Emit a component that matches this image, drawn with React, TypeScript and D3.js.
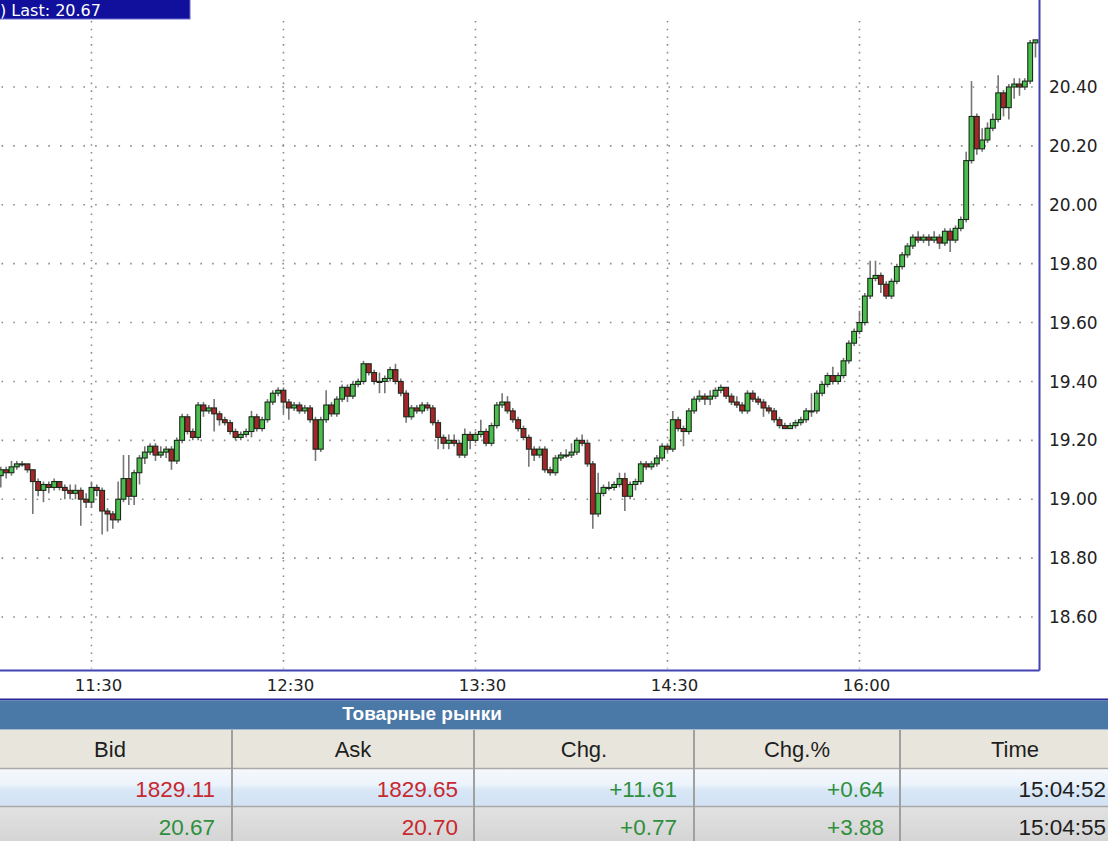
import * as d3 from "d3";

// candle data (open = previous close)
const firstOpen = 19.08;
const closes = [
  19.10, 19.09, 19.11, 19.12, 19.12, 19.10, 19.06, 19.03, 19.05, 19.04,
  19.06, 19.04, 19.03, 19.02, 19.03, 19.00, 18.99, 19.04, 19.03, 18.96,
  18.95, 18.93, 19.00, 19.07, 19.01, 19.09, 19.14, 19.16, 19.18, 19.15,
  19.16, 19.17, 19.13, 19.20, 19.28, 19.23, 19.21, 19.32, 19.30, 19.31,
  19.29, 19.27, 19.26, 19.23, 19.21, 19.22, 19.23, 19.28, 19.24, 19.27,
  19.33, 19.36, 19.37, 19.33, 19.31, 19.32, 19.30, 19.31, 19.27, 19.17,
  19.27, 19.32, 19.29, 19.34, 19.38, 19.35, 19.39, 19.40, 19.46, 19.43,
  19.40, 19.40, 19.41, 19.44, 19.40, 19.36, 19.28, 19.31, 19.30, 19.32,
  19.31, 19.26, 19.21, 19.19, 19.20, 19.19, 19.15, 19.22, 19.20, 19.22,
  19.23, 19.19, 19.25, 19.32, 19.33, 19.30, 19.27, 19.24, 19.21, 19.17,
  19.15, 19.17, 19.10, 19.09, 19.14, 19.15, 19.15, 19.16, 19.20, 19.19,
  19.12, 18.95, 19.02, 19.04, 19.04, 19.05, 19.07, 19.01, 19.05, 19.06,
  19.12, 19.11, 19.12, 19.14, 19.18, 19.17, 19.27, 19.24, 19.23, 19.30,
  19.34, 19.35, 19.34, 19.35, 19.37, 19.38, 19.35, 19.33, 19.32, 19.30,
  19.36, 19.34, 19.33, 19.31, 19.30, 19.27, 19.25, 19.24, 19.25, 19.26,
  19.27, 19.30, 19.30, 19.36, 19.39, 19.42, 19.40, 19.42, 19.47, 19.53,
  19.57, 19.60, 19.69, 19.75, 19.76, 19.73, 19.69, 19.74, 19.79, 19.83,
  19.86, 19.89, 19.88, 19.89, 19.88, 19.89, 19.87, 19.91, 19.88, 19.92,
  19.95, 20.15, 20.30, 20.19, 20.22, 20.26, 20.29, 20.38, 20.33, 20.40,
  20.41, 20.40, 20.42, 20.55, 20.56,
];
const highs = [
  19.11, 19.11, 19.13, 19.13, 19.13, 19.12, 19.10, 19.07, 19.06, 19.06,
  19.07, 19.06, 19.05, 19.05, 19.05, 19.04, 19.02, 19.06, 19.05, 19.04,
  18.97, 18.96, 19.06, 19.15, 19.15, 19.10, 19.15, 19.18, 19.19, 19.19,
  19.18, 19.18, 19.18, 19.21, 19.29, 19.29, 19.24, 19.33, 19.33, 19.32,
  19.34, 19.30, 19.28, 19.27, 19.24, 19.23, 19.24, 19.30, 19.29, 19.28,
  19.34, 19.37, 19.38, 19.38, 19.34, 19.33, 19.33, 19.32, 19.32, 19.28,
  19.28, 19.37, 19.33, 19.35, 19.39, 19.39, 19.40, 19.41, 19.47, 19.46,
  19.44, 19.43, 19.42, 19.45, 19.46, 19.41, 19.37, 19.32, 19.32, 19.33,
  19.33, 19.32, 19.27, 19.22, 19.22, 19.22, 19.20, 19.24, 19.23, 19.23,
  19.27, 19.24, 19.26, 19.33, 19.36, 19.35, 19.31, 19.28, 19.25, 19.22,
  19.18, 19.18, 19.18, 19.11, 19.15, 19.16, 19.17, 19.19, 19.21, 19.22,
  19.20, 19.13, 19.09, 19.05, 19.06, 19.06, 19.09, 19.09, 19.06, 19.07,
  19.13, 19.13, 19.13, 19.15, 19.19, 19.19, 19.30, 19.28, 19.25, 19.31,
  19.35, 19.37, 19.36, 19.37, 19.38, 19.39, 19.38, 19.36, 19.35, 19.33,
  19.37, 19.37, 19.35, 19.34, 19.32, 19.31, 19.28, 19.26, 19.26, 19.27,
  19.28, 19.31, 19.36, 19.37, 19.40, 19.43, 19.45, 19.43, 19.48, 19.54,
  19.58, 19.64, 19.70, 19.81, 19.81, 19.77, 19.74, 19.75, 19.80, 19.84,
  19.87, 19.90, 19.91, 19.90, 19.90, 19.91, 19.90, 19.92, 19.92, 19.93,
  19.96, 20.18, 20.42, 20.31, 20.26, 20.28, 20.31, 20.44, 20.39, 20.41,
  20.43, 20.43, 20.43, 20.56, 20.56,
];
const lows = [
  19.04, 19.07, 19.08, 19.10, 19.11, 19.09, 18.95, 19.01, 18.99, 19.02,
  19.03, 19.03, 19.00, 19.00, 19.00, 18.91, 18.97, 18.97, 19.01, 18.88,
  18.89, 18.90, 18.92, 18.99, 18.98, 18.98, 19.05, 19.12, 19.15, 19.13,
  19.14, 19.14, 19.10, 19.12, 19.19, 19.22, 19.20, 19.20, 19.28, 19.29,
  19.23, 19.25, 19.25, 19.22, 19.20, 19.20, 19.21, 19.21, 19.23, 19.23,
  19.26, 19.32, 19.35, 19.29, 19.27, 19.30, 19.29, 19.29, 19.26, 19.13,
  19.16, 19.26, 19.28, 19.28, 19.33, 19.33, 19.34, 19.38, 19.39, 19.42,
  19.39, 19.36, 19.36, 19.40, 19.39, 19.35, 19.26, 19.27, 19.29, 19.29,
  19.30, 19.25, 19.17, 19.17, 19.17, 19.18, 19.14, 19.14, 19.17, 19.19,
  19.21, 19.18, 19.18, 19.24, 19.31, 19.29, 19.26, 19.23, 19.20, 19.11,
  19.13, 19.14, 19.09, 19.08, 19.08, 19.13, 19.14, 19.14, 19.15, 19.18,
  19.11, 18.90, 18.94, 19.01, 19.03, 19.03, 19.04, 18.96, 19.00, 19.03,
  19.05, 19.10, 19.10, 19.11, 19.13, 19.16, 19.16, 19.23, 19.18, 19.22,
  19.29, 19.33, 19.32, 19.32, 19.34, 19.36, 19.34, 19.32, 19.31, 19.29,
  19.29, 19.33, 19.32, 19.28, 19.29, 19.26, 19.24, 19.24, 19.24, 19.24,
  19.25, 19.26, 19.28, 19.29, 19.35, 19.38, 19.39, 19.39, 19.41, 19.46,
  19.52, 19.56, 19.59, 19.68, 19.74, 19.70, 19.68, 19.68, 19.73, 19.78,
  19.82, 19.85, 19.87, 19.87, 19.86, 19.87, 19.85, 19.86, 19.84, 19.87,
  19.91, 19.94, 20.14, 20.17, 20.18, 20.21, 20.25, 20.28, 20.30, 20.29,
  20.36, 20.37, 20.39, 20.41, 20.50,
];

const timeTickIndex = [17, 53, 89, 125, 161];
const timeTickLabels = ["11:30", "12:30", "13:30", "14:30", "16:00"];
const priceTicks = [18.6, 18.8, 19.0, 19.2, 19.4, 19.6, 19.8, 20.0, 20.2, 20.4];
const titleText = ") Last: 20.67";

// quote table
const tableTitle = "Товарные рынки";
const columnNames = ["Bid", "Ask", "Chg.", "Chg.%", "Time"];
const bidValues = ["1829.11", "20.67"];
const bidMoves = ["down", "up"];
const askValues = ["1829.65", "20.70"];
const askMoves = ["down", "down"];
const chgValues = ["+11.61", "+0.77"];
const chgPctValues = ["+0.64", "+3.88"];
const timeValues = ["15:04:52", "15:04:55"];

const W = 1108;
const H = 841;
const plotRight = 1039.5;
const plotBottom = 670.5;

const UP = "#4abd4c";
const DOWN = "#a5252a";
const RED_TXT = "#c8282e";
const GREEN_TXT = "#2f8f3c";

export default function App() {
  const x = d3.scaleLinear().domain([0, closes.length - 1]).range([0.8, 1035.5]);
  const y = d3.scaleLinear().domain([18.6, 20.4]).range([617, 87]);

  const candles = closes.map((c, i) => {
    const o = i === 0 ? firstOpen : closes[i - 1];
    return { i, o, c, h: highs[i], l: lows[i] };
  });

  const colEdges = [-12, 232, 474, 694, 900, 1130];
  const rowTops = [769, 807];
  const rowH = [37, 38];
  const moveColor = (m: string) => (m === "up" ? GREEN_TXT : RED_TXT);
  const signColor = (v: string) => (v.startsWith("-") ? RED_TXT : GREEN_TXT);
  const cols = [
    { values: bidValues, colors: bidMoves.map(moveColor), right: colEdges[1] - 17 },
    { values: askValues, colors: askMoves.map(moveColor), right: colEdges[2] - 16 },
    { values: chgValues, colors: chgValues.map(signColor), right: colEdges[3] - 17 },
    { values: chgPctValues, colors: chgPctValues.map(signColor), right: colEdges[4] - 16 },
    { values: timeValues, colors: timeValues.map(() => "#1e1e1e"), right: W - 2 },
  ];

  const axisFont = "'DejaVu Sans', Verdana, sans-serif";
  const tableFont = "'Liberation Sans', Arial, sans-serif";

  return (
    <div style={{ position: "absolute", left: 0, top: 0 }}>
      <svg width={W} height={H} style={{ display: "block", background: "#fff" }}>
        <defs>
          <linearGradient id="row1" x1="0" y1="0" x2="0" y2="1">
            <stop offset="0" stopColor="#f6f9fd" />
            <stop offset="0.45" stopColor="#eaf2fb" />
            <stop offset="0.55" stopColor="#d9e7f6" />
            <stop offset="1" stopColor="#d2e2f3" />
          </linearGradient>
          <linearGradient id="row2" x1="0" y1="0" x2="0" y2="1">
            <stop offset="0" stopColor="#e2e2e2" />
            <stop offset="1" stopColor="#d3d3d3" />
          </linearGradient>
          <clipPath id="plot">
            <rect x={-10} y={0} width={plotRight + 10} height={plotBottom} />
          </clipPath>
        </defs>

        {/* grid */}
        <g stroke="#8c8c8c" strokeWidth={1.6}>
          {priceTicks.map((p) => (
            <line key={p} x1={1.5} x2={plotRight - 4} y1={y(p)} y2={y(p)} strokeDasharray="1.6,10.1" />
          ))}
          {timeTickIndex.map((t) => (
            <line key={t} x1={x(t)} x2={x(t)} y1={21} y2={plotBottom - 2} strokeDasharray="1.6,6.1" />
          ))}
        </g>

        {/* candles */}
        <g clipPath="url(#plot)">
          {candles.map((d) => (
            <line
              key={"w" + d.i}
              x1={x(d.i)}
              x2={x(d.i)}
              y1={y(d.h)}
              y2={y(d.l)}
              stroke="#767676"
              strokeWidth={1.6}
            />
          ))}
          {candles.map((d) => {
            const top = y(Math.max(d.o, d.c));
            const bot = y(Math.min(d.o, d.c));
            return (
              <rect
                key={"b" + d.i}
                x={x(d.i) - 2.4}
                y={top}
                width={4.8}
                height={Math.max(bot - top, 1)}
                fill={d.c >= d.o ? UP : DOWN}
                stroke="#1c2a1c"
                strokeWidth={1.1}
              />
            );
          })}
        </g>

        {/* frame */}
        <line x1={plotRight} x2={plotRight} y1={0} y2={plotBottom} stroke="#4343b4" strokeWidth={2} />
        <line x1={0} x2={plotRight} y1={plotBottom} y2={plotBottom} stroke="#4343b4" strokeWidth={2} />

        {/* price labels */}
        {priceTicks.map((p) => (
          <text key={p} x={1049} y={y(p)} dy="0.36em" fontFamily={axisFont} fontSize={17} fill="#222">
            {p.toFixed(2)}
          </text>
        ))}

        {/* time labels */}
        {timeTickIndex.map((t, k) => (
          <text
            key={t}
            x={x(t) + 7}
            y={691}
            textAnchor="middle"
            fontFamily={axisFont}
            fontSize={16.5}
            fill="#222"
          >
            {timeTickLabels[k]}
          </text>
        ))}

        {/* title box */}
        <rect x={-2} y={-2} width={192} height={21} fill="#10109c" stroke="#6a6ad0" strokeWidth={1} />
        <text x={0} y={15.5} fontFamily={axisFont} fontSize={16} fill="#fff">
          {titleText}
        </text>

        {/* table */}
        <line x1={0} x2={W} y1={699.5} y2={699.5} stroke="#26269a" strokeWidth={2} />
        <rect x={0} y={700.5} width={W} height={29} fill="#4a78a7" />
        <text
          x={422}
          y={720}
          textAnchor="middle"
          fontFamily={tableFont}
          fontWeight="bold"
          fontSize={19}
          fill="#fff"
        >
          {tableTitle}
        </text>

        <rect x={0} y={730} width={W} height={38} fill="#e8e6dc" />
        <rect x={0} y={rowTops[0]} width={W} height={rowH[0]} fill="url(#row1)" />
        <rect x={0} y={rowTops[1]} width={W} height={rowH[1]} fill="url(#row2)" />
        <line x1={0} x2={W} y1={768.5} y2={768.5} stroke="#a9a9a9" strokeWidth={1.5} />
        <line x1={0} x2={W} y1={806.5} y2={806.5} stroke="#a9a9a9" strokeWidth={1.5} />

        {colEdges.slice(1, -1).map((e) => (
          <line key={e} x1={e} x2={e} y1={730} y2={H} stroke="#a0a0a0" strokeWidth={2} />
        ))}

        {columnNames.map((n, k) => (
          <text
            key={n}
            x={(colEdges[k] + colEdges[k + 1]) / 2}
            y={757}
            textAnchor="middle"
            fontFamily={tableFont}
            fontSize={22}
            fill="#1e1e1e"
          >
            {n}
          </text>
        ))}

        {cols.map((col, k) =>
          col.values.map((v, r) => (
            <text
              key={k + "-" + r}
              x={col.right}
              y={rowTops[r] + 28}
              textAnchor="end"
              fontFamily={tableFont}
              fontSize={22.5}
              fill={col.colors[r]}
            >
              {v}
            </text>
          ))
        )}
      </svg>
    </div>
  );
}
